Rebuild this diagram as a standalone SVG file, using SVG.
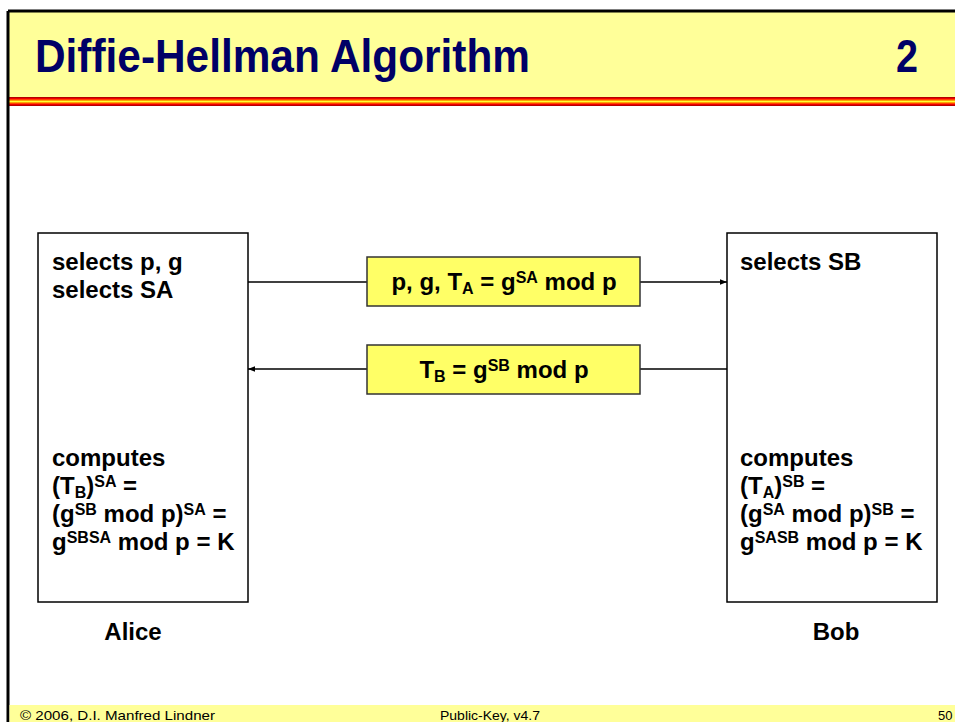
<svg xmlns="http://www.w3.org/2000/svg" width="955" height="722" viewBox="0 0 955 722">
<defs>
<linearGradient id="stripe" x1="0" y1="0" x2="0" y2="1">
<stop offset="0" stop-color="#990000"/>
<stop offset="0.2" stop-color="#FF0000"/>
<stop offset="0.38" stop-color="#FF9900"/>
<stop offset="0.5" stop-color="#FFFF33"/>
<stop offset="0.62" stop-color="#FF9900"/>
<stop offset="0.8" stop-color="#FF0000"/>
<stop offset="1" stop-color="#990000"/>
</linearGradient>
<marker id="ah" viewBox="0 0 10 10" refX="10" refY="5" markerWidth="8" markerHeight="7" markerUnits="userSpaceOnUse" orient="auto">
<path d="M0,1 L10,5 L0,9 z" fill="#000"/>
</marker>
</defs>
<style>
.t{font-family:"Liberation Sans",Arial,sans-serif;font-weight:bold;font-size:24px;fill:#000}
.s{font-size:16px}
.box{fill:#fff;stroke:#000;stroke-width:1.5}
.msg{fill:#FFFF66;stroke:#333;stroke-width:1.5}
.ln{stroke:#000;stroke-width:1.5;fill:none}
.ft{font-family:"Liberation Sans",Arial,sans-serif;font-size:13px;fill:#000}
</style>
<rect x="0" y="0" width="955" height="722" fill="#fff"/>
<g id="header">
<rect x="8" y="11" width="947" height="86" fill="#FFFF99"/>
<line x1="8" y1="11" x2="955" y2="11" stroke="#000" stroke-width="3"/>
<rect x="8" y="97" width="947" height="9" fill="url(#stripe)"/>
<text x="35" y="72" font-family="'Liberation Sans',Arial,sans-serif" font-weight="bold" font-size="47" fill="#000066" textLength="495" lengthAdjust="spacingAndGlyphs">Diffie-Hellman Algorithm</text>
<text x="918" y="72" text-anchor="end" font-family="'Liberation Sans',Arial,sans-serif" font-weight="bold" font-size="47" fill="#000066" textLength="22" lengthAdjust="spacingAndGlyphs">2</text>
</g>
<g id="frame">
<line x1="8" y1="11" x2="8" y2="722" stroke="#000" stroke-width="3"/>
<rect x="9.5" y="705" width="945.5" height="17" fill="#FFFF99"/>
<text class="ft" x="20" y="720" textLength="195" lengthAdjust="spacingAndGlyphs">© 2006, D.I. Manfred Lindner</text>
<text class="ft" x="440" y="720" textLength="100" lengthAdjust="spacingAndGlyphs">Public-Key, v4.7</text>
<text class="ft" x="938" y="720">50</text>
</g>
<g id="connectors">
<line class="ln" x1="248" y1="282" x2="367" y2="282"/>
<line class="ln" x1="640" y1="282" x2="727" y2="282" marker-end="url(#ah)"/>
<line class="ln" x1="727" y1="369" x2="640" y2="369"/>
<line class="ln" x1="367" y1="369" x2="248" y2="369" marker-end="url(#ah)"/>
</g>
<g id="alice">
<rect class="box" x="38" y="233" width="210" height="369"/>
<text class="t" x="52" y="270">selects p, g</text>
<text class="t" x="52" y="298">selects SA</text>
<text class="t" x="52" y="466">computes</text>
<text class="t" x="52" y="494">(T<tspan class="s" dy="4">B</tspan><tspan dy="-4">)</tspan><tspan class="s" dy="-7">SA</tspan><tspan dy="7"> =</tspan></text>
<text class="t" x="52" y="522">(g<tspan class="s" dy="-7">SB</tspan><tspan dy="7"> mod p)</tspan><tspan class="s" dy="-7">SA</tspan><tspan dy="7"> =</tspan></text>
<text class="t" x="52" y="550">g<tspan class="s" dy="-7">SBSA</tspan><tspan dy="7"> mod p = K</tspan></text>
<text class="t" x="133" y="640" text-anchor="middle">Alice</text>
</g>
<g id="bob">
<rect class="box" x="727" y="233" width="210" height="369"/>
<text class="t" x="740" y="270">selects SB</text>
<text class="t" x="740" y="466">computes</text>
<text class="t" x="740" y="494">(T<tspan class="s" dy="4">A</tspan><tspan dy="-4">)</tspan><tspan class="s" dy="-7">SB</tspan><tspan dy="7"> =</tspan></text>
<text class="t" x="740" y="522">(g<tspan class="s" dy="-7">SA</tspan><tspan dy="7"> mod p)</tspan><tspan class="s" dy="-7">SB</tspan><tspan dy="7"> =</tspan></text>
<text class="t" x="740" y="550">g<tspan class="s" dy="-7">SASB</tspan><tspan dy="7"> mod p = K</tspan></text>
<text class="t" x="836" y="640" text-anchor="middle">Bob</text>
</g>
<g id="msg1">
<rect class="msg" x="367" y="257" width="273" height="49"/>
<text class="t" x="504" y="290" text-anchor="middle">p, g, T<tspan class="s" dy="4">A</tspan><tspan dy="-4"> = g</tspan><tspan class="s" dy="-7">SA</tspan><tspan dy="7"> mod p</tspan></text>
</g>
<g id="msg2">
<rect class="msg" x="367" y="345" width="273" height="49"/>
<text class="t" x="504" y="378" text-anchor="middle">T<tspan class="s" dy="4">B</tspan><tspan dy="-4"> = g</tspan><tspan class="s" dy="-7">SB</tspan><tspan dy="7"> mod p</tspan></text>
</g>
</svg>
